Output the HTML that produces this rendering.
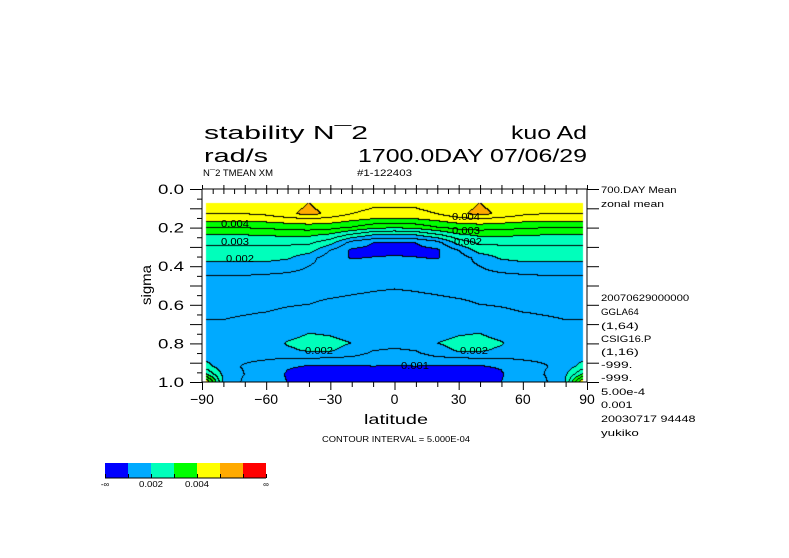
<!DOCTYPE html>
<html><head><meta charset="utf-8"><style>
html,body{margin:0;padding:0;background:#fff;}
#wrap{position:relative;width:789px;height:558px;overflow:hidden;}
canvas{position:absolute;left:0;top:0;}
svg{position:absolute;left:0;top:0;}
text{font-family:"Liberation Sans",sans-serif;fill:#000;}
</style></head><body>
<div id="wrap">
<canvas id="cv" width="789" height="558"></canvas>
<svg id="sv" width="789" height="558"></svg>
</div>
<script>
// ---- data (units 1e-3 s^-2) ----
const lats = [0,10,20,30,40,50,60,70,80,88];
const sigmas = [0.073,0.1,0.13,0.16,0.2,0.24,0.28,0.32,0.36,0.4,0.45,0.52,0.6,0.68,0.75,0.8,0.84,0.88,0.92,0.96,1.0];
const field = [
 [4.6,4.6,4.7,4.9,5.0,4.9,4.7,4.6,4.6,4.6],
 [4.5,4.5,4.6,4.85,5.05,4.85,4.7,4.6,4.6,4.6],
 [4.4,4.4,4.5,4.85,5.2,4.85,4.6,4.5,4.5,4.5],
 [3.9,3.95,4.1,4.3,4.4,4.3,4.2,4.15,4.15,4.15],
 [3.1,3.2,3.5,3.7,3.75,3.7,3.6,3.55,3.55,3.55],
 [1.9,2.0,2.4,2.9,3.1,3.1,3.05,3.0,3.0,3.0],
 [1.0,1.0,1.3,2.2,2.6,2.6,2.6,2.6,2.6,2.6],
 [0.9,0.88,0.92,1.5,2.2,2.3,2.3,2.3,2.3,2.3],
 [1.05,1.02,0.98,1.2,1.7,2.05,2.1,2.1,2.1,2.1],
 [1.2,1.2,1.2,1.3,1.5,1.75,1.9,1.9,1.9,1.9],
 [1.3,1.3,1.3,1.3,1.35,1.4,1.45,1.5,1.5,1.5],
 [1.5,1.48,1.45,1.42,1.4,1.42,1.45,1.45,1.45,1.45],
 [1.6,1.6,1.58,1.55,1.5,1.48,1.45,1.45,1.45,1.45],
 [1.65,1.65,1.65,1.65,1.65,1.6,1.55,1.52,1.5,1.5],
 [1.65,1.7,1.8,1.95,2.0,1.8,1.65,1.6,1.6,1.6],
 [1.6,1.7,2.0,2.15,2.2,2.05,1.7,1.65,1.6,1.6],
 [1.45,1.5,1.8,2.05,2.05,1.9,1.65,1.6,1.6,1.7],
 [1.2,1.3,1.4,1.45,1.5,1.5,1.55,1.6,1.7,1.9],
 [0.98,1.0,0.97,0.97,0.98,1.05,1.3,1.45,1.7,2.2],
 [0.85,0.8,0.7,0.7,0.8,0.95,1.3,1.5,1.9,3.0],
 [0.8,0.75,0.65,0.7,0.85,1.0,1.3,1.4,2.0,4.5]
];
const levels = [1,2,3,4,5,6];
const colors = ['#0000ff','#00aaff','#00ffbb','#00ff00','#ffff00','#ffaa00','#ff0000'];
const contourStep = 0.5;
const xTicks = [-90,-60,-30,0,30,60,90];
const xTickLabels = ['−90','−60','−30','0','30','60','90'];
const yTicks = [0,0.2,0.4,0.6,0.8,1.0];
const yTickLabels = ['0.0','0.2','0.4','0.6','0.8','1.0'];
const rightInfo = [['700.DAY Mean',189],['zonal mean',203],['20070629000000',297],['GGLA64',311],['(1,64)',325],['CSIG16.P',338],['(1,16)',351],['-999.',364],['-999.',377],['5.00e-4',391],['0.001',404],['20030717  94448',418],['yukiko',432]];

// ---- axes ----
const X0=202,X1=587,Y0=189,Y1=382;
const xs = lat => X0 + (lat+90)/180*(X1-X0);
const ys = s => Y0 + s*(Y1-Y0);
const invX = px => (px-X0)/(X1-X0)*180-90;
const invY = py => (py-Y0)/(Y1-Y0);

function interp(lat,s){
  const a=Math.min(Math.abs(lat),88);
  let i=0; while(i<lats.length-2 && lats[i+1]<a) i++;
  let j=0; while(j<sigmas.length-2 && sigmas[j+1]<s) j++;
  const tx=Math.max(0,Math.min(1,(a-lats[i])/(lats[i+1]-lats[i])));
  const ty=Math.max(0,Math.min(1,(s-sigmas[j])/(sigmas[j+1]-sigmas[j])));
  const v00=field[j][i],v01=field[j][i+1],v10=field[j+1][i],v11=field[j+1][i+1];
  return (v00*(1-tx)+v01*tx)*(1-ty)+(v10*(1-tx)+v11*tx)*ty;
}
function band(v){let k=0;while(k<levels.length&&v>=levels[k])k++;return k;}
function hex(c){return [parseInt(c.substr(1,2),16),parseInt(c.substr(3,2),16),parseInt(c.substr(5,2),16)];}

const cv=document.getElementById('cv'),ctx=cv.getContext('2d');
const fx0=Math.round(xs(-88)),fx1=Math.round(xs(88)),fy0=Math.round(ys(sigmas[0])),fy1=Y1;
const W=fx1-fx0,H=fy1-fy0;
const img=ctx.createImageData(W,H);
const cl=[];
for(let y=0;y<H;y++){cl.push([]);for(let x=0;x<W;x++){
  const v=interp(invX(fx0+x+0.5),invY(fy0+y+0.5));
  cl[y].push(Math.floor(v/contourStep));
  const c=hex(colors[band(v)]);const p=(y*W+x)*4;
  img.data[p]=c[0];img.data[p+1]=c[1];img.data[p+2]=c[2];img.data[p+3]=255;}}
for(let y=0;y<H;y++)for(let x=0;x<W;x++){
  const k=cl[y][x];
  if((x+1<W&&cl[y][x+1]!==k)||(y+1<H&&cl[y+1][x]!==k)){const p=(y*W+x)*4;img.data[p]=0;img.data[p+1]=0;img.data[p+2]=0;}}
ctx.putImageData(img,fx0,fy0);

// ---- svg ----
const NS='http://www.w3.org/2000/svg',sv=document.getElementById('sv');
function el(t,a,txt){const e=document.createElementNS(NS,t);for(const k in a)e.setAttribute(k,a[k]);if(txt!==undefined)e.textContent=txt;sv.appendChild(e);return e;}
function line(x1,y1,x2,y2,name){const e=el('line',{x1,y1,x2,y2,stroke:'#000','stroke-width':1});

return e;}
function txt(s,x,y,fs,len,name,anchor){const a={x,y,'font-size':fs};if(len){a.textLength=len;a.lengthAdjust='spacingAndGlyphs';}if(anchor)a['text-anchor']=anchor;const e=el('text',a,s);

return e;}

// frame
line(X0,Y0,X1,Y0,'plot-frame-top');line(X0,Y1,X1,Y1,'plot-frame-bottom');
line(X0,Y0,X0,Y1,'plot-frame-left');line(X1,Y0,X1,Y1,'plot-frame-right');
for(let l=-90;l<=90;l+=10){const x=xs(l)+0.5;line(x,Y1,x,Y1+(l%30===0?8:5),'x-tick');line(x,Y0,x,Y0-4,'x-tick-top');}
for(let l=-85;l<=85;l+=5){const x=xs(l)+0.5;line(x,Y0,x,Y0+5,'x-minor-tick-top');}
for(let s=0;s<=1.001;s+=0.05){const y=ys(s)+0.5;const big=Math.abs(s*10-Math.round(s*10))<0.01;line(X0-(big?12:5),y,X0,y,'y-tick');if(big)line(X1,y,X1+12,y,'y-tick-right');}
xTicks.forEach((t,i)=>txt(xTickLabels[i],xs(t),404,14,null,'x-tick-label','middle'));
yTicks.forEach((t,i)=>txt(yTickLabels[i],171,ys(t)+5,14,26,'y-tick-label','middle'));
txt('latitude',396,424,14,64,'x-axis-title','middle');
const yt=txt('sigma',0,0,14,40,'y-axis-title','middle');yt.setAttribute('transform','translate(151,285) rotate(-90)');

// titles
txt('stability N¯2',204,139,18,164,'title-line-1');
txt('kuo Ad',511,139,18,76,'title-model');
txt('rad/s',204,162,18,64,'units-label');
txt('1700.0DAY 07/06/29',358,162,18,229,'time-label');
txt('N¯2 TMEAN XM',203,176,9,70,'variable-label');
txt('#1-122403',357,176,9,55,'run-id-label');
txt('CONTOUR INTERVAL = 5.000E-04',322,442,8,148,'contour-interval-label');
rightInfo.forEach(r=>txt(r[0],601,r[1]+4,9,r[0].length*6.3,'info-text'));

// contour labels
[['0.004',221,227],['0.003',221,245],['0.002',226,262],['0.004',452,220],['0.003',452,234],['0.002',454,245],['0.002',305,354],['0.002',460,354],['0.001',401,369]].forEach(l=>txt(l[0],l[1],l[2],10,28,'contour-label'));

// colorbar
for(let i=0;i<colors.length;i++){const r=el('rect',{x:105+i*23,y:463,width:23,height:15,fill:colors[i]});

}
line(105,478,266,478,'colorbar-baseline');
for(let i=0;i<=7;i++)line(105+i*23+0.5,474,105+i*23+0.5,478,'colorbar-tick');
txt('-∞',105,487,8,null,'colorbar-label','middle');
txt('0.002',151,487,8,24,'colorbar-label','middle');
txt('0.004',197,487,8,24,'colorbar-label','middle');
txt('∞',266,487,8,null,'colorbar-label','middle');
</script>
</body></html>
